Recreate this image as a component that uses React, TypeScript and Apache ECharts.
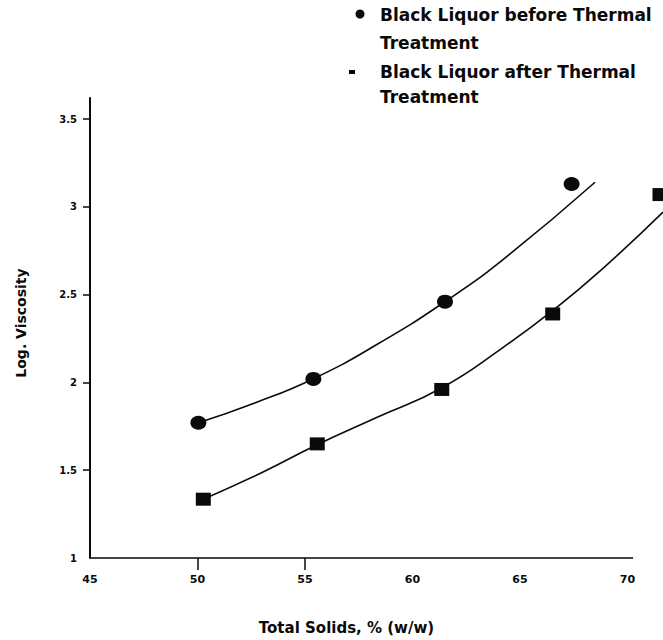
import React, { useEffect, useRef } from "react";
import * as echarts from "echarts";

// Tick labels / tick marks
const xTickLabels = [45, 50, 55, 60, 65, 70];
const xTickMarks = [50, 55];
const yTickLabels = [1, 1.5, 2, 2.5, 3, 3.5];
const yTickMarks = [1.5, 2, 2.5, 3, 3.5];
const xAxisStart = 45;
const xAxisEnd = 70.26;

// Measured points
const beforeX = [50.04, 55.39, 61.51, 67.4];
const beforeY = [1.77, 2.02, 2.46, 3.13];
const afterX = [50.27, 55.57, 61.36, 66.52, 71.51];
const afterY = [1.335, 1.65, 1.96, 2.39, 3.07];

// Points
const beforeCurveX = [50.04, 52.6, 55.37, 58.4, 61.51, 64.21, 68.49];
const beforeCurveY = [1.77, 1.88, 2.02, 2.22, 2.46, 2.7, 3.14];
const afterCurveX = [50.27, 53.05, 55.56, 58.33, 61.37, 64.22, 66.53, 68.86, 71.65];
const afterCurveY = [1.335, 1.49, 1.645, 1.8, 1.97, 2.2, 2.41, 2.65, 2.97];

const seriesNames = [
  "Black Liquor before Thermal",
  "Black Liquor after Thermal",
];

const zip = (a: number[], b: number[]) => a.map((v, i) => [v, b[i]]);

const FONT = "DejaVu Sans";
const INK = "#0a0a0a";

export default function App() {
  const ref = useRef<HTMLDivElement>(null);
  useEffect(() => {
    document.body.style.margin = "0";
    if (!ref.current) return;
    const chart = echarts.init(ref.current, undefined, { renderer: "svg" });
    const legendText = (text: string, y: number) => ({
      type: "text",
      x: 380,
      y,
      style: {
        text,
        fontFamily: FONT,
        fontWeight: "bold",
        fontSize: 17,
        fill: INK,
        verticalAlign: "middle",
        align: "left",
      },
    });
    const option: any = {
      animation: false,
      backgroundColor: "#ffffff",
      grid: { left: 90, right: 0, top: 98, bottom: 79 },
      xAxis: {
        type: "value",
        min: 45,
        max: 71.65,
        name: "Total Solids, % (w/w)",
        nameLocation: "middle",
        nameGap: 62,
        nameTextStyle: {
          fontFamily: FONT,
          fontWeight: "bold",
          fontSize: 15,
          color: INK,
          padding: [0, 60, 0, 0],
        },
        axisLine: { show: false },
        axisTick: {
          show: true,
          inside: false,
          length: 12,
          customValues: xTickMarks,
          lineStyle: { color: INK, width: 1.5 },
        },
        axisLabel: {
          customValues: xTickLabels,
          margin: 16,
          fontFamily: FONT,
          fontWeight: "bold",
          fontSize: 11,
          color: INK,
        },
        splitLine: { show: false },
      },
      yAxis: {
        type: "value",
        min: 1,
        max: 3.62,
        name: "Log. Viscosity",
        nameLocation: "middle",
        nameRotate: 90,
        nameGap: 62,
        nameTextStyle: {
          fontFamily: FONT,
          fontWeight: "bold",
          fontSize: 14,
          color: INK,
          padding: [0, 0, 0, 10],
        },
        axisLine: { show: true, lineStyle: { color: INK, width: 2 } },
        axisTick: {
          show: true,
          inside: false,
          length: 7,
          customValues: yTickMarks,
          lineStyle: { color: INK, width: 1.5 },
        },
        axisLabel: {
          customValues: yTickLabels,
          margin: 13,
          fontFamily: FONT,
          fontWeight: "bold",
          fontSize: 10,
          color: INK,
          formatter: (v: number) => String(v),
        },
        splitLine: { show: false },
      },
      graphic: [
        { type: "circle", shape: { cx: 360, cy: 14, r: 4.5 }, style: { fill: INK } },
        legendText(seriesNames[0], 15),
        legendText("Treatment", 43),
        { type: "rect", shape: { x: 349, y: 70, width: 6, height: 4 }, style: { fill: INK } },
        legendText(seriesNames[1], 72),
        legendText("Treatment", 97),
      ],
      series: [
        {
          name: seriesNames[0] + " fit",
          type: "line",
          data: zip(beforeCurveX, beforeCurveY),
          smooth: true,
          showSymbol: false,
          symbol: "none",
          clip: false,
          lineStyle: { color: INK, width: 1.6 },
          z: 2,
          markLine: {
            silent: true,
            symbol: "none",
            label: { show: false },
            lineStyle: { color: INK, width: 1.6, type: "solid" },
            data: [[{ coord: [xAxisStart, 1] }, { coord: [xAxisEnd, 1] }]],
          },
        },
        {
          name: seriesNames[1] + " fit",
          type: "line",
          data: zip(afterCurveX, afterCurveY),
          smooth: true,
          showSymbol: false,
          symbol: "none",
          clip: false,
          lineStyle: { color: INK, width: 1.6 },
          z: 2,
        },
        {
          name: seriesNames[0],
          type: "scatter",
          data: zip(beforeX, beforeY),
          symbol: "circle",
          symbolSize: [16, 14],
          clip: false,
          itemStyle: { color: INK, opacity: 1 },
          z: 3,
        },
        {
          name: seriesNames[1],
          type: "scatter",
          data: zip(afterX, afterY),
          symbol: "rect",
          symbolSize: [15, 13],
          clip: false,
          itemStyle: { color: INK, opacity: 1 },
          z: 3,
        },
      ],
    };
    chart.setOption(option);
    return () => chart.dispose();
  }, []);
  return <div ref={ref} style={{ width: 663, height: 640 }} />;
}
